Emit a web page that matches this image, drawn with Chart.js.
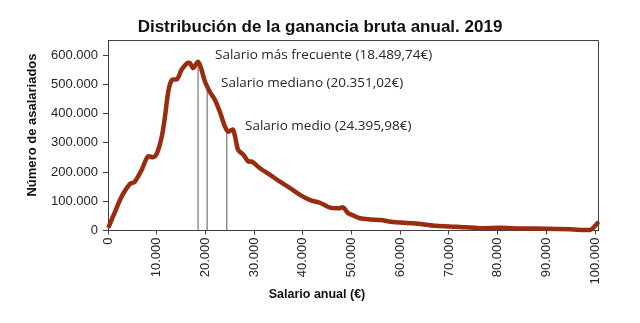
<!DOCTYPE html>
<html lang="es">
<head>
<meta charset="utf-8">
<title>Distribución de la ganancia bruta anual. 2019</title>
<script src="https://cdn.jsdelivr.net/npm/chart.js@4/dist/chart.umd.min.js"></script>
<style>
  html, body { margin: 0; padding: 0; background: #ffffff; }
  canvas { display: block; }
</style>
</head>
<body>
<canvas id="grafico" width="640" height="323"></canvas>
<script>
// Salario anual bruto (€) y número de asalariados en cada tramo
const salarios = [
  200, 1440, 2800, 4500, 5500, 6900, 8200, 9300, 10000, 11000,
  11700, 12400, 13100, 14200, 15100, 16300, 16800, 17500, 18500, 19200,
  19900, 20900, 21960, 23000, 24000, 24700, 25600, 26100, 26700, 27800,
  28800, 29500, 31200, 33300, 35300, 37400, 39400, 41500, 43500, 45600,
  47300, 48300, 49300, 50400, 51700, 53800, 55900, 58600, 62700, 67400,
  71500, 76400, 80500, 84600, 90000, 94900, 99000, 100500
];
const asalariados = [
  15000, 64000, 116000, 159000, 167000, 207000, 253000, 251000, 262000, 318000,
  390000, 478000, 515000, 518000, 550000, 573000, 573000, 556000, 578000, 550000,
  510000, 475000, 447000, 405000, 356000, 338000, 346000, 321000, 276000, 259000,
  236000, 236000, 213000, 190000, 167000, 145000, 122000, 104000, 95000, 78000,
  76000, 79000, 59000, 51000, 42000, 38000, 36000, 29000, 25000, 16000,
  13000, 8000, 9000, 7000, 6000, 4000, 2000, 25000
];

// Salario más frecuente, mediano y medio, con la altura de la curva en cada uno
const salariosClave = [18489.74, 20351.02, 24395.98];
const alturasClave = [578000, 498000, 344000];
const etiquetasClave = [
  'Salario más frecuente (18.489,74€)',
  'Salario mediano (20.351,02€)',
  'Salario medio (24.395,98€)'
];

const ticksX = [0, 10000, 20000, 30000, 40000, 50000, 60000, 70000, 80000, 90000, 100000];
const ticksY = [0, 100000, 200000, 300000, 400000, 500000, 600000];

const titulo = 'Distribución de la ganancia bruta anual. 2019';
const tituloX = 'Salario anual (€)';
const tituloY = 'Número de asalariados';

// Separador de miles con punto
function miles(v) {
  return String(Math.round(v)).replace(/\B(?=(\d{3})+(?!\d))/g, '.');
}

const GRIS = '#404040';
const TEXTO = '#262626';
const SANS = '"Liberation Sans", Arial, sans-serif';

const curva = {
  data: salarios.map((s, i) => ({ x: s, y: asalariados[i] })),
  borderColor: '#982c0e',
  borderWidth: 4.5,
  borderCapStyle: 'round',
  borderJoinStyle: 'round',
  pointRadius: 0,
  tension: 0.3,
  fill: false,
  clip: 6,
  order: 0
};

const lineasClave = salariosClave.map((s, i) => ({
  data: [{ x: s, y: 0 }, { x: s, y: alturasClave[i] }],
  borderColor: '#5a5a5a',
  borderWidth: 1,
  pointRadius: 0,
  tension: 0,
  fill: false,
  order: 1
}));

// Marco, títulos y etiquetas de los salarios clave
const textos = {
  id: 'textos',
  afterDraw(chart) {
    const { ctx, chartArea: a } = chart;
    ctx.save();
    ctx.strokeStyle = GRIS;
    ctx.lineWidth = 1;
    ctx.beginPath();
    ctx.moveTo(a.left, a.top + 0.5);
    ctx.lineTo(a.right + 0.5, a.top + 0.5);
    ctx.lineTo(a.right + 0.5, a.bottom);
    ctx.stroke();

    ctx.fillStyle = '#111111';
    ctx.textAlign = 'center';
    ctx.textBaseline = 'alphabetic';
    ctx.font = 'bold 17px ' + SANS;
    ctx.fillText(titulo, 320, 32);

    ctx.font = 'bold 12.5px ' + SANS;
    ctx.textBaseline = 'middle';
    ctx.fillText(tituloX, 317, 295);

    ctx.save();
    ctx.translate(32, 125);
    ctx.rotate(-Math.PI / 2);
    ctx.font = 'bold 13px ' + SANS;
    ctx.fillText(tituloY, 0, 0);
    ctx.restore();

    ctx.font = '13.5px "Open Sans", Lato, sans-serif';
    ctx.fillStyle = TEXTO;
    ctx.textAlign = 'left';
    ctx.textBaseline = 'middle';
    const pos = [[215, 55], [221, 83], [245, 126]];
    etiquetasClave.forEach((t, i) => ctx.fillText(t, pos[i][0], pos[i][1]));
    ctx.restore();
  }
};

new Chart(document.getElementById('grafico'), {
  type: 'line',
  data: { datasets: [curva, ...lineasClave] },
  options: {
    responsive: false,
    animation: false,
    events: [],
    layout: { padding: { top: 40, right: 42, left: 0, bottom: 0 } },
    plugins: { legend: { display: false }, tooltip: { enabled: false }, title: { display: false } },
    scales: {
      x: {
        type: 'linear',
        min: 0,
        max: 100600,
        afterBuildTicks: s => { s.ticks = ticksX.map(v => ({ value: v })); },
        afterFit: s => { s.height = 92.5; },
        ticks: {
          autoSkip: false,
          minRotation: 90,
          maxRotation: 90,
          padding: 3,
          color: TEXTO,
          font: { family: SANS, size: 13 },
          callback: v => miles(v)
        },
        grid: { drawOnChartArea: false, drawTicks: true, tickLength: 4, color: GRIS },
        border: { display: true, color: GRIS, width: 1 }
      },
      y: {
        type: 'linear',
        min: 0,
        max: 652000,
        afterBuildTicks: s => { s.ticks = ticksY.map(v => ({ value: v })); },
        afterFit: s => { s.width = 108; },
        ticks: {
          padding: 5,
          color: TEXTO,
          font: { family: SANS, size: 13 },
          callback: v => miles(v)
        },
        grid: { drawOnChartArea: false, drawTicks: true, tickLength: 5, color: GRIS },
        border: { display: true, color: GRIS, width: 1 }
      }
    }
  },
  plugins: [textos]
});
</script>
</body>
</html>
